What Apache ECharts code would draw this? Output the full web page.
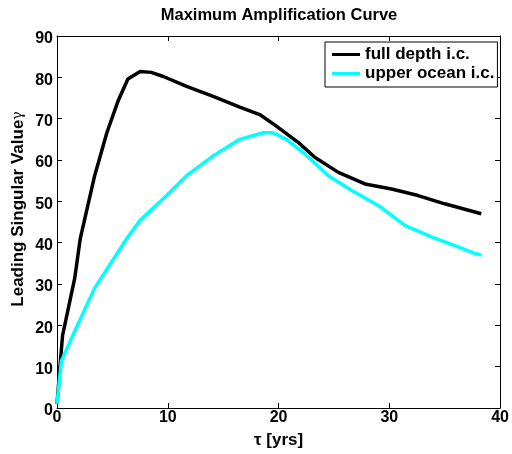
<!DOCTYPE html>
<html>
<head>
<meta charset="utf-8">
<script src="https://cdn.jsdelivr.net/npm/echarts@6/dist/echarts.min.js"></script>
<style>html,body{margin:0;padding:0;background:#fff}#c{width:512px;height:454px}</style>
</head>
<body>
<div id="c"></div>
<script>
const seriesNames = ['full depth i.c.', 'upper ocean i.c.'];
const fullTau = [0, 0.3, 0.5, 1.6, 2.1, 3.4, 4.5, 5.5, 6.4, 7.5, 8.5, 9.6, 11.7, 14.1, 16.5, 18.3, 19.8, 21.8, 23.3, 25.4, 27.8, 30.2, 32.6, 35.0, 38.3];
const fullVal = [1, 11, 17.5, 31.4, 41, 56.2, 66.6, 74.2, 79.6, 81.4, 81.2, 80.2, 77.8, 75.4, 72.8, 71.0, 68.2, 64.2, 60.6, 57.0, 54.2, 53.0, 51.4, 49.4, 47.0];
const upperTau = [0, 0.4, 1.5, 3.4, 6.3, 7.5, 9.9, 11.7, 14.1, 16.5, 18.6, 19.5, 20.7, 22.4, 24.5, 26.6, 29.0, 31.4, 33.8, 36.2, 37.7, 38.3];
const upperVal = [1, 11.4, 18, 29, 41, 45.4, 51.4, 56.2, 61, 65, 66.6, 66.6, 65, 61.4, 56.2, 52.6, 49, 44.2, 41.4, 39, 37.4, 37];
const xTicks = [0, 10, 20, 30, 40];
const yTicks = [0, 10, 20, 30, 40, 50, 60, 70, 80, 90];

const pair = (xs, ys) => xs.map((x, i) => [x, ys[i]]);
const font = 'Liberation Sans, Arial, Helvetica, sans-serif';
const chart = echarts.init(document.getElementById('c'), null, {renderer: 'canvas'});
const axisCommon = () => ({
  axisLine: {show: true, onZero: false, lineStyle: {color: '#000', width: 1}},
  axisTick: {show: true, inside: true, length: 5, lineStyle: {color: '#000', width: 1}},
  splitLine: {show: false}
});
chart.setOption({
  animation: false,
  backgroundColor: '#fff',
  title: {
    text: 'Maximum Amplification Curve', left: 279, top: 7, padding: 0, textAlign: 'center',
    textStyle: {fontFamily: font, fontWeight: 'bold', fontSize: 16.5, color: '#000'}
  },
  grid: {left: 57, right: 10, top: 36, bottom: 43, containLabel: false},
  legend: {
    data: seriesNames, orient: 'vertical', left: 325, top: 42,
    backgroundColor: '#fff', borderColor: '#000', borderWidth: 1,
    padding: [4, 3, 5, 7], itemGap: 2, itemWidth: 28, itemHeight: 3, icon: 'rect',
    textStyle: {fontFamily: font, fontWeight: 'bold', fontSize: 17, lineHeight: 17, color: '#000'}
  },
  xAxis: [
    Object.assign({
      type: 'value', min: 0, max: 40, interval: 10, position: 'bottom',
      name: 'τ [yrs]', nameLocation: 'middle', nameGap: 24,
      nameTextStyle: {fontFamily: font, fontWeight: 'bold', fontSize: 17, color: '#000'},
      axisLabel: {fontFamily: font, fontWeight: 'bold', fontSize: 16, color: '#000', margin: 2,
        customValues: xTicks}
    }, axisCommon()),
    Object.assign({
      type: 'value', min: 0, max: 90, interval: 10, position: 'top', axisLabel: {show: false}
    }, axisCommon(), {min: 0, max: 40})
  ],
  yAxis: [
    Object.assign({
      type: 'value', min: 0, max: 90, interval: 10, position: 'left',
      axisLabel: {color: '#000', margin: 4, customValues: yTicks,
        formatter: v => '{v|' + v + '}',
        rich: {v: {fontFamily: font, fontWeight: 'bold', fontSize: 16, color: '#000', padding: [6, 0, 0, 0]}}}
    }, axisCommon()),
    Object.assign({
      type: 'value', min: 0, max: 90, interval: 10, position: 'right', axisLabel: {show: false}
    }, axisCommon())
  ],
  graphic: [{
    type: 'text', x: 18, y: 209, rotation: Math.PI / 2,
    style: {
      text: '{a|Leading Singular Value}{g|γ}', align: 'center', verticalAlign: 'middle',
      rich: {
        a: {fontFamily: font, fontWeight: 'bold', fontSize: 17, fill: '#000', color: '#000'},
        g: {fontFamily: 'DejaVu Serif, serif', fontSize: 14, fill: '#000', color: '#000'}
      }
    }
  }],
  series: [
    {name: seriesNames[0], type: 'line', data: pair(fullTau, fullVal), symbol: 'none', smooth: false,
      lineStyle: {color: '#000', width: 3.5}, itemStyle: {color: '#000'}, z: 2},
    {name: seriesNames[1], type: 'line', data: pair(upperTau, upperVal), symbol: 'none', smooth: false,
      lineStyle: {color: '#00ffff', width: 3.5}, itemStyle: {color: '#00ffff'}, z: 3}
  ]
});
</script>
</body>
</html>
